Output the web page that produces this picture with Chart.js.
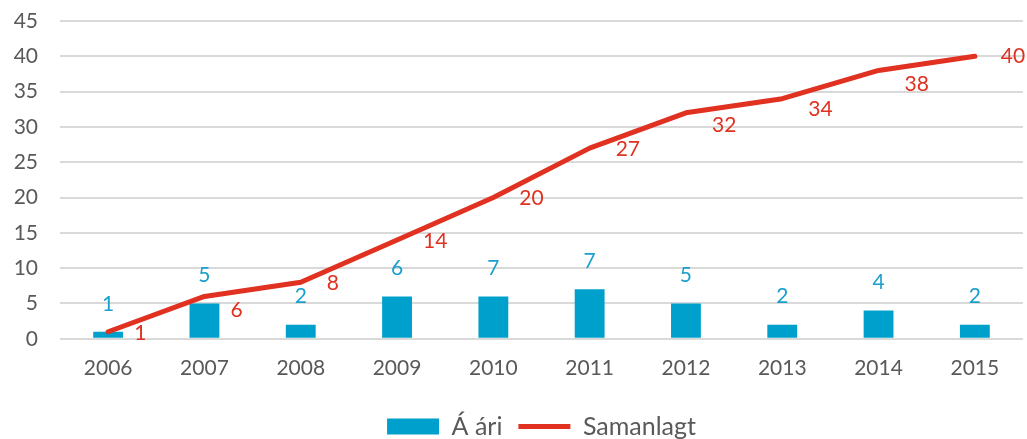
<!DOCTYPE html>
<html>
<head>
<meta charset="utf-8">
<script src="https://cdn.jsdelivr.net/npm/chart.js@4/dist/chart.umd.min.js"></script>
<style>
  html, body { margin: 0; padding: 0; background: #fff; }
  #wrap { width: 1027px; height: 439px; }
</style>
</head>
<body>
<div id="wrap"><canvas id="combo-chart"></canvas></div>
<script>
  // ------------------------------------------------------
  // @Data
  // ------------------------------------------------------
  const years = ['2006', '2007', '2008', '2009', '2010', '2011', '2012', '2013', '2014', '2015'];
  const perYear = [1, 5, 2, 6, 6, 7, 5, 2, 4, 2];
  const perYearLabels = ['1', '5', '2', '6', '7', '7', '5', '2', '4', '2'];
  const cumulative = [1, 6, 8, 14, 20, 27, 32, 34, 38, 40];
  const yTicks = [0, 5, 10, 15, 20, 25, 30, 35, 40, 45];

  const BLUE = '#00a0cc';
  const BLUE_TEXT = '#1aa0cd';
  const RED = '#e03121';
  const GREY_TEXT = '#595959';
  const FONT = 'Lato';

  // vertical nudges for the line labels (Excel style placement)
  const lineLabelDy = [1, 14, 1, 1, 1, 1, 12, 11, 14, 0];

  const valueLabels = {
    id: 'valueLabels',
    afterDatasetsDraw(chart) {
      const ctx = chart.ctx;
      ctx.save();
      ctx.font = '21px ' + FONT;
      ctx.textBaseline = 'middle';

      const barMeta = chart.getDatasetMeta(0);
      ctx.fillStyle = BLUE_TEXT;
      ctx.textAlign = 'center';
      barMeta.data.forEach((el, i) => {
        ctx.fillText(perYearLabels[i], el.x, el.y - 28);
      });

      const lineMeta = chart.getDatasetMeta(1);
      ctx.fillStyle = RED;
      ctx.textAlign = 'left';
      lineMeta.data.forEach((el, i) => {
        ctx.fillText(String(cumulative[i]), el.x + 26, el.y + lineLabelDy[i]);
      });
      ctx.restore();
    },
  };

  const box = document.getElementById('combo-chart');

  if (box) {
    new Chart(box.getContext('2d'), {
      data: {
        labels: years,
        datasets: [{
          type            : 'bar',
          label           : 'Á ári',
          backgroundColor : BLUE,
          borderWidth     : 0,
          data            : perYear,
          barPercentage   : 0.62,
          categoryPercentage : 0.5,
          order           : 1,
          pointStyle      : 'rect',
        }, {
          type            : 'line',
          label           : 'Samanlagt',
          borderColor     : RED,
          backgroundColor : RED,
          borderWidth     : 5,
          pointRadius     : 0,
          tension         : 0,
          borderCapStyle  : 'round',
          borderJoinStyle : 'round',
          data            : cumulative,
          order           : 0,
          pointStyle      : 'line',
        }],
      },
      options: {
        responsive: true,
        maintainAspectRatio: false,
        animation: false,
        layout: {
          padding: { left: 14, right: 4, top: 21, bottom: -10 },
        },
        plugins: {
          tooltip: { enabled: false },
          legend: {
            position: 'bottom',
            fullSize: false,
            labels: {
              usePointStyle  : true,
              pointStyleWidth: 52,
              boxHeight      : 16,
              color          : GREY_TEXT,
              font           : { family: FONT, size: 25 },
              padding        : 16,
              sort           : (a, b) => a.datasetIndex - b.datasetIndex,
            },
          },
        },
        scales: {
          x: {
            grid: { display: false },
            border: { display: false },
            afterFit: (axis) => { axis.height += 8; },
            ticks: {
              color: GREY_TEXT,
              font: { family: FONT, size: 21 },
              padding: 9,
            },
          },
          y: {
            min: 0,
            max: 45,
            afterBuildTicks: (axis) => { axis.ticks = yTicks.map((v) => ({ value: v })); },
            afterFit: (axis) => { axis.width = 46; },
            grid: {
              color: '#d9d9d9',
              lineWidth: 2,
              drawTicks: true,
              tickLength: 22,
              tickColor: 'rgba(0,0,0,0)',
            },
            border: { display: false },
            ticks: {
              color: GREY_TEXT,
              font: { family: FONT, size: 21 },
              padding: 0,
            },
          },
        },
      },
      plugins: [valueLabels],
    });
  }
</script>
</body>
</html>
